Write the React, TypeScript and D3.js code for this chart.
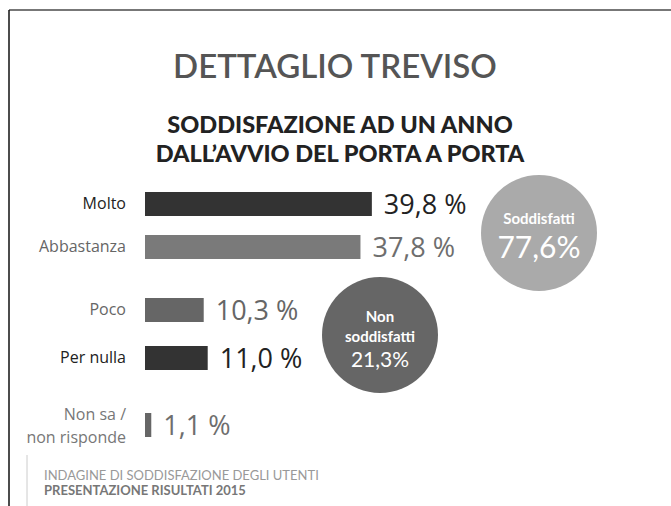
import { useEffect } from "react";
import * as d3 from "d3";

// data
const categories = ["Molto", "Abbastanza", "Poco", "Per nulla", "Non sa / non risponde"];
const values = [39.8, 37.8, 10.3, 11.0, 1.1];
const valueLabels = ["39,8 %", "37,8 %", "10,3 %", "11,0 %", "1,1 %"];
const groupLabels = ["Soddisfatti", "Non soddisfatti"];
const groupValues = ["77,6%", "21,3%"];

const width = 671;
const height = 506;

// layout
const rowCenters = [204, 247, 310, 358, 425];
const barColors = ["#333333", "#7a7a7a", "#666666", "#333333", "#666666"];
const labelColors = ["#222222", "#666666", "#666666", "#222222", "#777777"];
const valueColors = ["#222222", "#6e6e6e", "#666666", "#222222", "#6e6e6e"];
const barH = 24;

export default function App() {
  useEffect(() => {
    document.body.style.margin = "0";
  }, []);

  const x = d3.scaleLinear().domain([0, 40]).range([145, 373]);

  return (
    <svg width={width} height={height} style={{ display: "block", background: "#fff" }}>
      {/* frame */}
      <line x1={9} x2={width} y1={10} y2={10} stroke="#777" strokeWidth={2} />
      <line x1={9} x2={9} y1={10} y2={height} stroke="#111" strokeWidth={1.5} />

      <text x={335} y={78} textAnchor="middle" fontFamily="Lato" fontWeight={600} fontSize={33} fill="#555">
        DETTAGLIO TREVISO
      </text>
      <text textAnchor="middle" fontFamily="Lato" fontWeight={900} fontSize={23.5} fill="#222">
        <tspan x={340} y={133}>SODDISFAZIONE AD UN ANNO</tspan>
        <tspan x={340} y={162}>DALL’AVVIO DEL PORTA A PORTA</tspan>
      </text>

      {categories.map((c, i) => {
        const cy = rowCenters[i];
        const parts = c.includes(" / ") ? ["Non sa /", "non risponde"] : [c];
        return (
          <g key={c}>
            <rect x={x(0)} y={cy - barH / 2} width={x(values[i]) - x(0)} height={barH} fill={barColors[i]} />
            <text
              textAnchor="end"
              fontFamily="Open Sans"
              fontSize={16}
              fill={labelColors[i]}
            >
              {parts.length === 1 ? (
                <tspan x={126} y={cy + 5}>{parts[0]}</tspan>
              ) : (
                parts.map((p, j) => (
                  <tspan key={p} x={126} y={cy - 5 + j * 23}>{p}</tspan>
                ))
              )}
            </text>
            <text
              x={x(values[i]) + 12}
              y={cy + 10}
              fontFamily="Open Sans"
              fontSize={27}
              fill={valueColors[i]}
            >
              {valueLabels[i]}
            </text>
          </g>
        );
      })}

      {/* summary circles */}
      <g transform="translate(539,233)">
        <circle r={58} fill="#aaaaaa" />
        <text y={-9} textAnchor="middle" fontFamily="Lato" fontWeight={700} fontSize={15} fill="#fff">
          {groupLabels[0]}
        </text>
        <text y={25} textAnchor="middle" fontFamily="Lato" fontSize={30} fill="#fff">
          {groupValues[0]}
        </text>
      </g>
      <g transform="translate(380,335)">
        <circle r={58} fill="#666666" />
        <text textAnchor="middle" fontFamily="Lato" fontWeight={700} fontSize={15} fill="#fff">
          <tspan x={0} y={-13}>Non</tspan>
          <tspan x={0} y={7}>{groupLabels[1].replace("Non ", "")}</tspan>
        </text>
        <text y={32} textAnchor="middle" fontFamily="Lato" fontSize={21} fill="#fff">
          {groupValues[1]}
        </text>
      </g>

      {/* footer */}
      <line x1={27} x2={27} y1={455} y2={height} stroke="#ccc" strokeWidth={1} />
      <text x={44} y={480} fontFamily="Lato" fontSize={13} fill="#999">
        INDAGINE DI SODDISFAZIONE DEGLI UTENTI
      </text>
      <text x={44} y={495} fontFamily="Lato" fontWeight={700} fontSize={13} fill="#777">
        PRESENTAZIONE RISULTATI 2015
      </text>
    </svg>
  );
}
